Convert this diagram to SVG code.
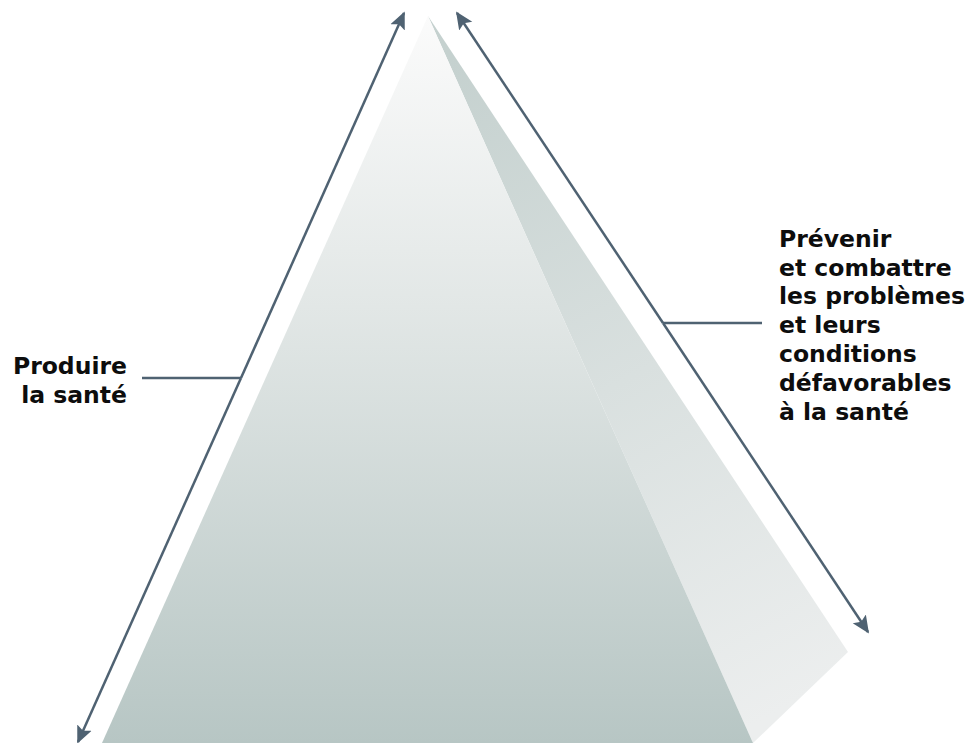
<svg xmlns="http://www.w3.org/2000/svg" width="971" height="743" viewBox="0 0 971 743">
<defs>
<linearGradient id="gFront" x1="0" y1="16" x2="0" y2="743" gradientUnits="userSpaceOnUse">
<stop offset="0" stop-color="#fbfbfb"/>
<stop offset="0.4" stop-color="#e2e7e6"/>
<stop offset="1" stop-color="#b7c6c4"/>
</linearGradient>
<linearGradient id="gSide" x1="450" y1="60" x2="800" y2="700" gradientUnits="userSpaceOnUse">
<stop offset="0" stop-color="#c5d1cf"/>
<stop offset="0.5" stop-color="#d9e0df"/>
<stop offset="1" stop-color="#eceeee"/>
</linearGradient>
<marker id="ah" viewBox="0 0 10 10" refX="9" refY="5" markerWidth="7" markerHeight="7" markerUnits="strokeWidth" orient="auto-start-reverse">
<path d="M0,0.5 L10,5 L0,9.5 L2,5 Z" fill="#4f6272"/>
</marker>
<style>
.lbl{font-family:"DejaVu Sans",sans-serif;font-weight:bold;font-size:23.5px;fill:#0d0d0d}
.ln{stroke:#4f6272;stroke-width:2.5;fill:none}
</style>
</defs>
<rect width="971" height="743" fill="#fff"/>
<g id="pyramid">
<polygon points="428,16 848,652 753,743" fill="url(#gSide)"/>
<polygon points="428,16 102,743 753,743" fill="url(#gFront)"/>
</g>
<g id="connectors">
<line class="ln" x1="241" y1="378" x2="404" y2="13" marker-end="url(#ah)"/>
<line class="ln" x1="241" y1="378" x2="78" y2="742" marker-end="url(#ah)"/>
<line class="ln" x1="663" y1="323" x2="457" y2="13" marker-end="url(#ah)"/>
<line class="ln" x1="663" y1="323" x2="868" y2="632" marker-end="url(#ah)"/>
<line class="ln" x1="142" y1="378" x2="241" y2="378"/>
<line class="ln" x1="663" y1="323" x2="762" y2="323"/>
</g>
<g id="label-left">
<text class="lbl" text-anchor="end" x="127" y="374">Produire</text>
<text class="lbl" text-anchor="end" x="127" y="403">la santé</text>
</g>
<g id="label-right">
<text class="lbl" x="779" y="247">Prévenir</text>
<text class="lbl" x="779" y="276">et combattre</text>
<text class="lbl" x="779" y="304">les problèmes</text>
<text class="lbl" x="779" y="333">et leurs</text>
<text class="lbl" x="779" y="362">conditions</text>
<text class="lbl" x="779" y="391">défavorables</text>
<text class="lbl" x="779" y="420">à la santé</text>
</g>
</svg>
